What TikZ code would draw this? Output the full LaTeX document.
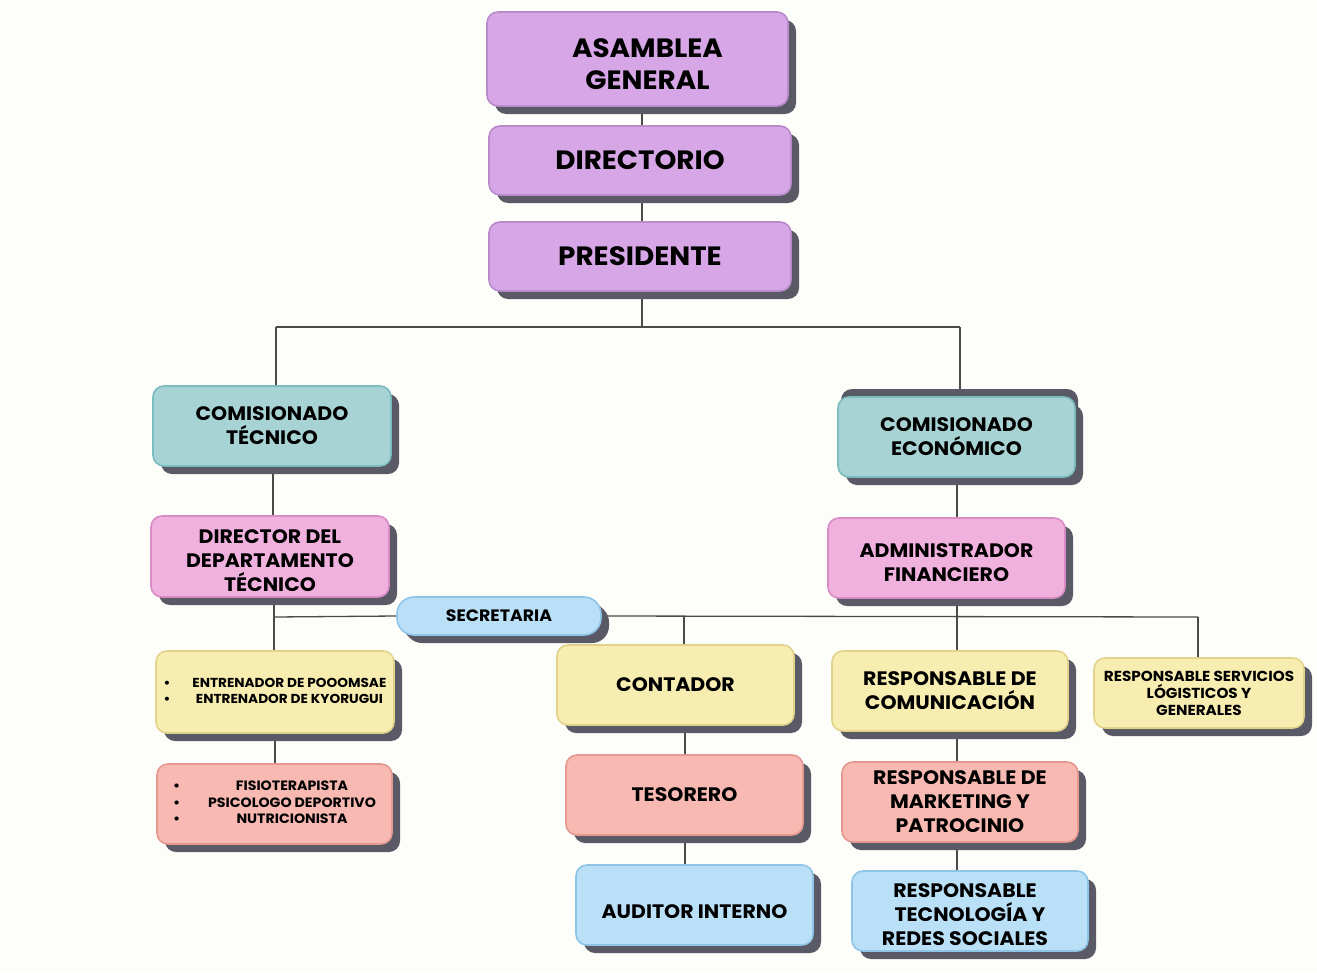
\documentclass[tikz,border=0pt]{standalone}
\usepackage{fontspec}
\setmainfont{Poppins}[FakeStretch=1.05]
\usetikzlibrary{shadows,calc}
\pgfdeclarelayer{bgl}
\pgfdeclarelayer{connl}
\pgfsetlayers{bgl,connl,main}
\definecolor{bgc}{HTML}{FDFDFA}
\definecolor{shadc}{HTML}{5A5A66}
\definecolor{linec}{HTML}{4A4A4A}
\definecolor{purf}{HTML}{D7A6E6}\definecolor{purd}{HTML}{B88BCB}
\definecolor{teaf}{HTML}{A8D3D4}\definecolor{tead}{HTML}{7BBDBF}
\definecolor{pinf}{HTML}{F1B1DE}\definecolor{pind}{HTML}{D98BC6}
\definecolor{yelf}{HTML}{F7EDB0}\definecolor{yeld}{HTML}{E3D28B}
\definecolor{salf}{HTML}{F8B9B2}\definecolor{sald}{HTML}{E59890}
\definecolor{bluf}{HTML}{BAE0F7}\definecolor{blud}{HTML}{8EC5E6}
\newcommand{\dn}[1]{\rule{0pt}{#1}}
\tikzset{
  box/.style={draw, line width=1.6pt, rounded corners=11pt, align=center,
    font=\bfseries, text=black, inner sep=2pt,
    general shadow={fill=shadc, shadow xshift=8pt, shadow yshift=-8pt}},
  upshadow/.style={general shadow={fill=shadc, shadow xshift=3pt, shadow yshift=8pt}},
  purbox/.style={box, fill=purf, draw=purd},
  teabox/.style={box, fill=teaf, draw=tead},
  pinbox/.style={box, fill=pinf, draw=pind},
  yelbox/.style={box, fill=yelf, draw=yeld},
  salbox/.style={box, fill=salf, draw=sald},
  blubox/.style={box, fill=bluf, draw=blud},
  big/.style={font=\bfseries\fontsize{26.5}{32}\selectfont},
  med/.style={font=\bfseries\fontsize{19.5}{24}\selectfont},
  sml/.style={font=\bfseries\fontsize{13}{16.5}\selectfont},
  conn/.style={draw=linec, line width=1.3pt},
}
\begin{document}
\begin{tikzpicture}[x=1pt,y=-1pt]
\begin{pgfonlayer}{bgl}
\fill[bgc] (0,0) rectangle (1317,972);
\end{pgfonlayer}
\useasboundingbox (0,0) rectangle (1317,972);

\coordinate (hl) at (276,327);
\coordinate (hr) at (960,327);
\coordinate (hm) at (642,327);
\coordinate (sl) at (274,617);
\coordinate (sc) at (684,617);
\coordinate (se) at (957,617);
\coordinate (sr) at (1198,617);
\coordinate (xa) at (273,0);
\coordinate (xb) at (275,0);
\coordinate (xc) at (685,0);

\node[purbox, big, minimum width=301pt, minimum height=94pt] (asm) at (637.5,59) {\dn{30pt}\hspace*{20pt}ASAMBLEA\\\hspace*{20pt}GENERAL};
\node[purbox, big, minimum width=302pt, minimum height=69pt] (dir) at (640,160.5) {DIRECTORIO};
\node[purbox, big, minimum width=302pt, minimum height=69pt] (pre) at (640,256.5) {PRESIDENTE};

\node[teabox, med, minimum width=238pt, minimum height=80pt] (ctec) at (272,426) {COMISIONADO\\TÉCNICO};
\node[teabox, med, upshadow, minimum width=237pt, minimum height=80pt] (ceco) at (956.5,437) {COMISIONADO\\ECONÓMICO};

\node[pinbox, med, minimum width=238pt, minimum height=81pt] (ddt) at (270,556.5) {\dn{23pt}DIRECTOR DEL\\DEPARTAMENTO\\TÉCNICO};
\node[pinbox, med, minimum width=237pt, minimum height=80pt] (adm) at (946.5,558) {\dn{24pt}ADMINISTRADOR\\FINANCIERO};

\node[box, fill=bluf, draw=blud, rounded corners=17pt, font=\bfseries\fontsize{16.5}{18}\selectfont,
  general shadow={fill=shadc, shadow xshift=6pt, shadow yshift=-6pt},
  minimum width=204pt, minimum height=38pt] (sec) at (499,616) {SECRETARIA};

\node[yelbox, sml, minimum width=238pt, minimum height=82pt] (ent) at (275,692)
  {\begin{tabular}{@{}l@{\hspace{22pt}}c@{}}\textbullet & ENTRENADOR DE POOOMSAE\\ \textbullet & ENTRENADOR DE KYORUGUI\end{tabular}};
\node[salbox, font=\bfseries\fontsize{13.5}{16.5}\selectfont, minimum width=235pt, minimum height=80pt] (fis) at (274.5,804)
  {\begin{tabular}{@{}l@{\hspace{28pt}}c@{}}\textbullet & FISIOTERAPISTA\\ \textbullet & PSICOLOGO DEPORTIVO\\ \textbullet & NUTRICIONISTA\end{tabular}};

\node[yelbox, med, minimum width=237pt, minimum height=80pt] (con) at (675.5,685) {CONTADOR};
\node[salbox, med, minimum width=237pt, minimum height=80pt] (tes) at (684.5,795) {TESORERO};
\node[blubox, med, minimum width=237pt, minimum height=80pt] (aud) at (694.5,905) {\dn{28pt}AUDITOR INTERNO};

\node[yelbox, med, minimum width=236pt, minimum height=80pt] (com) at (950,691) {RESPONSABLE DE\\COMUNICACIÓN};
\node[salbox, med, minimum width=236pt, minimum height=80pt] (mkt) at (960,802) {RESPONSABLE DE\\MARKETING Y\\PATROCINIO};
\node[blubox, med, minimum width=236pt, minimum height=80pt] (tec) at (970,911) {\dn{22pt}RESPONSABLE\hspace*{10pt}\\TECNOLOGÍA Y\hspace*{10pt}\\REDES SOCIALES\hspace*{10pt}};
\node[yelbox, font=\bfseries\fontsize{14.5}{17}\selectfont, minimum width=210pt, minimum height=70pt] (srv) at (1199,693) {RESPONSABLE SERVICIOS\\LÓGISTICOS Y\\GENERALES};

\begin{pgfonlayer}{connl}
\draw[conn] (asm.south -| hm) -- (dir.north -| hm);
\draw[conn] (dir.south -| hm) -- (pre.north -| hm);
\draw[conn] (pre.south -| hm) -- (hm);
\draw[conn] (hl) -- (hr);
\draw[conn] (hl) -- (ctec.north -| hl);
\draw[conn] (hr) -- (ceco.north -| hr);
\draw[conn] (ctec.south -| xa) -- (ddt.north -| xa);
\draw[conn] (ceco.south -| se) -- (adm.north -| se);
\draw[conn] (ddt.south -| sl) -- (ent.north -| sl);
\draw[conn] (sl) -- (sec.west);
\draw[conn] (sec.east) -- (sr);
\draw[conn] (sc) -- (con.north -| sc);
\draw[conn] (adm.south -| se) -- (com.north -| se);
\draw[conn] (sr) -- (srv.north -| sr);
\draw[conn] (ent.south -| xb) -- (fis.north -| xb);
\draw[conn] (con.south -| xc) -- (tes.north -| xc);
\draw[conn] (tes.south -| xc) -- (aud.north -| xc);
\draw[conn] (com.south -| se) -- (mkt.north -| se);
\draw[conn] (mkt.south -| se) -- (tec.north -| se);
\end{pgfonlayer}
\end{tikzpicture}
\end{document}
